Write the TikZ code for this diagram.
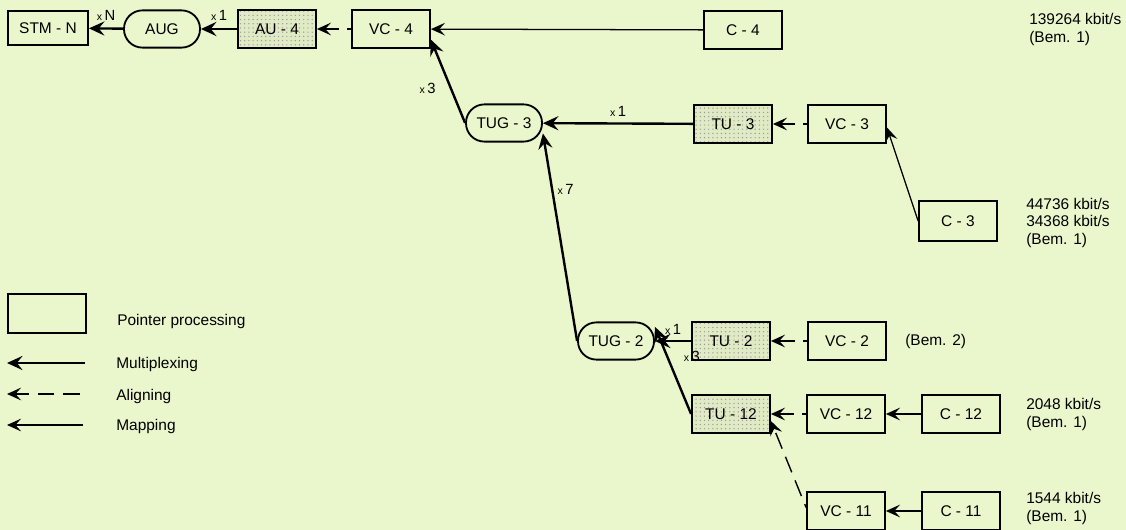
\documentclass[tikz,border=0pt]{standalone}
\usepackage{fontspec}
\setmainfont{Liberation Sans}
\usepackage{xcolor}
\usetikzlibrary{positioning}
\usetikzlibrary{arrows.meta}
\usetikzlibrary{patterns}
\definecolor{paper}{RGB}{234,246,204}
\definecolor{dotfill}{RGB}{224,234,196}
\newcommand{\xtimes}[1]{{\fontsize{7.5}{8}\selectfont x}\,#1}

\begin{document}
\begin{tikzpicture}[x=0.025cm,y=-0.025cm,
    box/.style={draw,line width=1.3pt,minimum width=1.95cm,minimum height=0.93cm,inner sep=0pt,font=\fontsize{11}{13}\selectfont},
    tubox/.style={box,preaction={fill=dotfill},pattern=dots,pattern color=black!40},
    tug/.style={box,rounded corners=0.46cm,minimum width=1.9cm},
    lbl/.style={inner sep=1pt,font=\fontsize{10.5}{12}\selectfont},
    rate/.style={anchor=west,align=left,inner sep=0pt,font=\fontsize{11}{12.8}\selectfont},
    legtext/.style={anchor=west,inner sep=0pt,font=\fontsize{11}{13}\selectfont},
    muxline/.style={line width=1.7pt,-{Stealth[length=11pt,width=10pt,inset=4pt]}},
    mapline/.style={line width=0.9pt,-{Stealth[length=10pt,width=9pt,inset=4pt]}},
    alignline/.style={line width=1pt,dash pattern=on 0.42cm off 0.22cm,dash phase=0.33cm,-{Stealth[length=10pt,width=9pt,inset=4pt]}}]

\useasboundingbox[fill=paper] (0,0) rectangle (1126,530);

% containers
\node[box,minimum width=2cm,minimum height=0.83cm] (STM) at (48,28) {STM - N};
\node[tug] (AUG) at (162,29) {AUG};
\node[tubox] (AU4) at (277,29) {AU - 4};
\node[box] (VC4) at (391,29) {VC - 4};
\node[box] (C4) at (743,30) {C - 4};
\node[tug] (TUG3) at (504,123) {TUG - 3};
\node[tubox] (TU3) at (733,124) {TU - 3};
\node[box] (VC3) at (847,124) {VC - 3};
\node[box,minimum height=1.02cm] (C3) at (958,221) {C - 3};
\node[tug] (TUG2) at (616,341) {TUG - 2};
\node[tubox] (TU2) at (731,341) {TU - 2};
\node[box] (VC2) at (847,341) {VC - 2};
\node[tubox] (TU12) at (731,414) {TU - 12};
\node[box] (VC12) at (846,414) {VC - 12};
\node[box] (C12) at (961,414) {C - 12};
\node[box] (VC11) at (846,511) {VC - 11};
\node[box] (C11) at (961,511) {C - 11};

% bit rates
\node[rate] (r4) at (1029,30) {139264 kbit/s\\(Bem. 1)};
\node[rate] (r3) at (1026,223) {44736 kbit/s\\34368 kbit/s\\(Bem. 1)};
\node[rate] (bem2) at (905,341) {(Bem. 2)};
\node[rate] (r12) at (1026,414) {2048 kbit/s\\(Bem. 1)};
\node[rate] (r11) at (1026,508) {1544 kbit/s\\(Bem. 1)};

% connections
\draw[muxline] (AUG) -- node[lbl,above=4pt]{\xtimes{N}} (STM);
\draw[muxline] (AU4) -- node[lbl,above=4pt]{\xtimes{1}} (AUG);
\draw[alignline] (VC4) -- (AU4);
\draw[mapline] (C4) -- (VC4);
\draw[muxline] (TUG3.west) -- node[lbl,left=9pt,pos=0.42]{\xtimes{3}} (VC4.-15);
\draw[muxline] (TU3) -- node[lbl,above=3pt]{\xtimes{1}} (TUG3);
\draw[alignline] (VC3) -- (TU3);
\draw[mapline] (C3.west) -- (VC3.-5);
\draw[muxline] (TUG2.west) -- node[lbl,right=2pt,pos=0.73]{\xtimes{7}} (TUG3.-15);
\draw[muxline] (TU2) -- node[lbl,above=3pt]{\xtimes{1}} (TUG2);
\draw[alignline] (VC2) -- (TU2);
\draw[muxline] (TU12.west) -- node[lbl,right=10pt,pos=0.66]{\xtimes{3}} (TUG2.20);
\draw[alignline] (VC12) -- (TU12);
\draw[mapline] (C12) -- (VC12);
\draw[alignline] (VC11.175) -- (TU12.-10);
\draw[mapline] (C11) -- (VC11);

% legend
\node[box,minimum width=1.95cm,minimum height=0.98cm] (lgbox) at (47,313.5) {};
\node[legtext] (lgptr) at (117,322) {Pointer processing};
\coordinate (lgm1) at (85,363);
\coordinate (lgm0) at (7,363);
\node[legtext] (lgmux) at (116,365) {Multiplexing};
\coordinate (lga1) at (80,394);
\coordinate (lga0) at (7,394);
\node[legtext] (lgali) at (116,397) {Aligning};
\coordinate (lgp1) at (83,425);
\coordinate (lgp0) at (7,425);
\node[legtext] (lgmap) at (116,427) {Mapping};
\draw[muxline] (lgm1) -- (lgm0);
\draw[alignline,dash phase=0cm] (lga1) -- (lga0);
\draw[mapline] (lgp1) -- (lgp0);

\end{tikzpicture}
\end{document}
